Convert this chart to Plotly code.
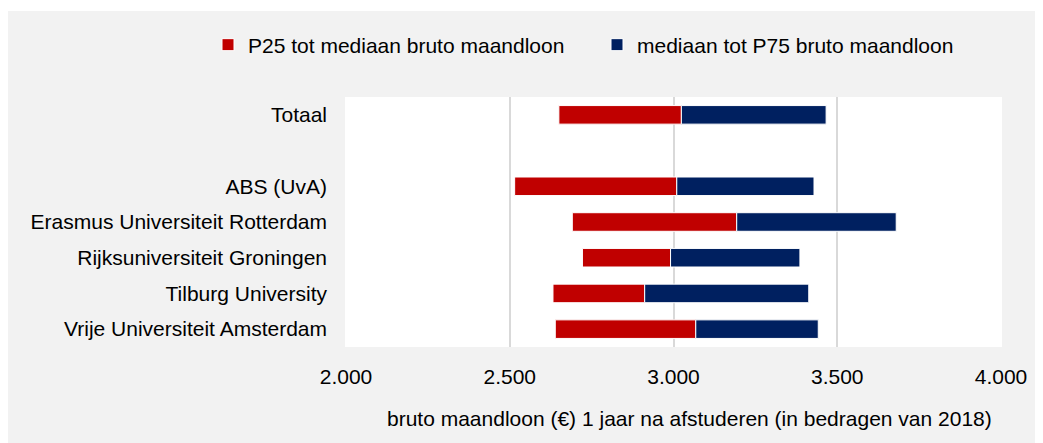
import plotly.graph_objects as go

categories = ["Totaal", " ", "ABS (UvA)", "Erasmus Universiteit Rotterdam",
              "Rijksuniversiteit Groningen", "Tilburg University",
              "Vrije Universiteit Amsterdam"]
p25 = [2650, None, 2515, 2691, 2722, 2632, 2639]
mediaan = [3024, None, 3010, 3193, 2991, 2912, 3068]
p75 = [3466, None, 3429, 3680, 3386, 3413, 3442]

tick_vals = [2000, 2500, 3000, 3500, 4000]
tick_text = ["2.000", "2.500", "3.000", "3.500", "4.000"]

series_names = ["P25 tot mediaan bruto maandloon", "mediaan tot P75 bruto maandloon"]
colors = ["#C00000", "#002060"]


def diff(a, b):
    return [None if (x is None or y is None) else y - x for x, y in zip(a, b)]


fig = go.Figure()
fig.add_trace(go.Bar(
    y=categories, x=diff(p25, mediaan), base=p25, orientation="h",
    name=series_names[0], marker=dict(color=colors[0], line=dict(color="white", width=1)),
    width=0.52,
))
fig.add_trace(go.Bar(
    y=categories, x=diff(mediaan, p75), base=mediaan, orientation="h",
    name=series_names[1], marker=dict(color=colors[1], line=dict(color="white", width=1)),
    width=0.52,
))

# page is rendered with an 8px body margin
W, H = 1035, 435
L, R, T, B = 337, 41, 89, 96
pw = W - L - R
ph = H - T - B
FS = 21

fig.update_layout(
    width=W, height=H,
    margin=dict(l=L, r=R, t=T, b=B, pad=0),
    paper_bgcolor="#F2F2F2",
    plot_bgcolor="white",
    barmode="overlay",
    font=dict(family="Liberation Sans, Arial, sans-serif", size=FS, color="#000000"),
    showlegend=True,
    legend=dict(
        orientation="h", x=(200 - L) / pw, xanchor="left",
        y=1 + (T - 37) / ph, yanchor="middle",
        bgcolor="rgba(0,0,0,0)", font=dict(size=FS), entrywidth=344,
        traceorder="normal",
    ),
    shapes=[dict(type="rect", xref="paper", yref="paper",
                 x0=-L / pw, x1=1 + R / pw, y0=1 + (T - 3) / ph, y1=1 + T / ph,
                 fillcolor="white", line=dict(width=0), layer="below")],
    annotations=[dict(
        text="bruto maandloon (€) 1 jaar na afstuderen (in bedragen van 2018)",
        xref="paper", yref="paper", x=(681 - L) / pw, y=-(410 - (T + ph)) / ph,
        xanchor="center", yanchor="middle", showarrow=False,
        font=dict(size=FS, color="#000000"))],
)
fig.update_xaxes(
    range=[1997, 4003], tickvals=tick_vals, ticktext=tick_text,
    showgrid=True, gridcolor="#D9D9D9", gridwidth=2,
    zeroline=False, showline=False, ticks="", ticklabelstandoff=15,
    tickfont=dict(size=FS),
)
fig.update_yaxes(
    categoryorder="array", categoryarray=categories, autorange="reversed",
    showgrid=False, zeroline=False, showline=False, ticks="",
    ticklabelstandoff=17, tickfont=dict(size=FS),
)
fig.write_html("out.html")
